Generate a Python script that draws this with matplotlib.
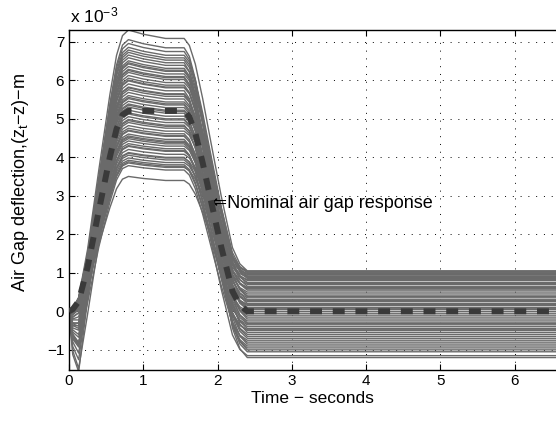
import numpy as np
import matplotlib
matplotlib.use("Agg")
import matplotlib.pyplot as plt

plt.rcParams["font.family"] = ["Liberation Sans", "DejaVu Sans"]
plt.rcParams["mathtext.default"] = "regular"

# shape knots of the response (seconds)
rise_t = [0.0, 0.05, 0.13, 0.25, 0.40, 0.55, 0.64, 0.72, 0.80]
rise_frac = [0.0, 0.01, 0.05, 0.22, 0.50, 0.77, 0.91, 0.98, 1.0]
dip_t = [0.0, 0.06, 0.13, 0.22, 0.35, 0.50, 0.70]
dip_frac = [0.0, 0.75, 1.0, 0.70, 0.30, 0.10, 0.0]
hold_t = [1.0, 1.3, 1.55]
hold_frac = [0.985, 0.97, 0.97]
fall_t = [1.62, 1.70, 1.80, 1.90, 2.05, 2.20, 2.30, 2.40, 2.60, 6.6]
fall_frac = [0.03, 0.11, 0.26, 0.43, 0.68, 0.90, 0.97, 1.0, 1.0, 1.0]

# per-run plateau heights, final offsets and initial dips (x 1e-3 m)
peaks = [7.30, 7.05, 6.85, 6.72, 6.65, 6.58, 6.50, 6.42, 6.35, 6.28,
         6.20, 6.12, 6.05, 5.98, 5.90, 5.82, 5.75, 5.68, 5.60, 5.52,
         5.45, 5.38, 5.30, 5.22, 5.12, 5.05, 4.98, 4.90, 4.82, 4.75,
         4.68, 4.60, 4.55, 4.48, 4.42, 4.35, 4.28, 4.20, 4.12, 4.05,
         3.98, 3.92, 3.85, 3.78, 3.50, 6.95, 6.78, 6.45, 6.25, 6.00,
         5.80, 5.55, 5.35, 5.15, 4.95, 4.70, 4.52, 4.30, 4.10, 3.88]
finals = [1.05, -0.55, 0.85, 0.20, -1.20, 0.65, -0.30, 1.00, 0.40, -0.85,
          0.10, 0.95, -0.45, 0.55, -1.05, 0.30, 0.75, -0.15, 0.90, -0.70,
          0.05, 0.60, -0.95, 0.45, -0.25, 0.80, -0.60, 0.15, 1.02, -0.40,
          0.35, -0.80, 0.70, -0.10, 0.50, -1.15, 0.25, 0.88, -0.50, 0.00,
          0.62, -0.35, 0.98, -0.75, 0.18, -0.20, 0.72, -1.00, 0.38, 0.92,
          -0.65, 0.08, 0.58, -0.32, 1.04, -0.90, 0.28, -0.05, 0.82, -0.48]
dips = [0.0, -0.72, 0.0, -0.1, -1.9, 0.0, -0.36, 0.0, 0.0, -1.2,
        -0.1, 0.0, -0.6, 0.0, -1.55, 0.0, 0.0, -0.24, 0.0, -0.95,
        -0.05, 0.0, -1.35, 0.0, -0.3, 0.0, -0.85, -0.1, 0.0, -0.55,
        0.0, -1.05, 0.0, -0.18, 0.0, -1.7, 0.0, 0.0, -0.65, -0.05,
        0.0, -0.42, 0.0, -1.0, -0.1, -0.24, 0.0, -1.25, 0.0, 0.0,
        -0.78, -0.05, 0.0, -0.4, 0.0, -1.1, 0.0, -0.12, 0.0, -0.58]

nominal_peak = 5.2
nominal_final = 0.0

x_ticks = [0, 1, 2, 3, 4, 5, 6]
y_ticks = [-1, 0, 1, 2, 3, 4, 5, 6, 7]


def response(peak, final, dip, sag=True):
    rise = [peak * r + dip * np.interp(t, dip_t, dip_frac) for t, r in zip(rise_t, rise_frac)]
    hold = [peak * (h if sag else 1.0) for h in hold_frac]
    end = hold[-1]
    fall = [end * (1.0 - f) + final * f for f in fall_frac]
    return rise_t + hold_t + fall_t, rise + hold + fall


fig = plt.figure(figsize=(5.56, 4.23), dpi=100)
ax = fig.add_axes([69 / 556, 53.5 / 423, 487 / 556, 339.5 / 423])

for p, f, d in zip(peaks, finals, dips):
    t, y = response(p, f, d)
    ax.plot(t, y, color="#6a6a6a", lw=1.0)

t, y = response(nominal_peak, nominal_final, 0.0, sag=False)
ax.plot(t, y, color="#3a3a3a", lw=4.3, dashes=(2.0, 1.8), dash_capstyle="butt", zorder=5)

ax.text(1.92, 2.81, "\u21d0Nominal air gap response", fontsize=13, va="center", ha="left")

ax.set_xlim(0, 6.555)
ax.set_ylim(-1.51, 7.30)
ax.set_xticks(x_ticks)
ax.set_yticks(y_ticks)
ax.tick_params(direction="in", length=4, top=True, right=False, labelsize=11, width=0.8)
ax.grid(True, color="black", linestyle=(0, (1, 7)), lw=0.7)
ax.spines["right"].set_visible(False)
for s in ("left", "top", "bottom"):
    ax.spines[s].set_linewidth(1.0)

ax.set_xlabel("Time \u2212 seconds", fontsize=12.5, labelpad=2)
ax.set_ylabel("Air Gap deflection,(z$_t$\u2212z)\u2212m", fontsize=13)
ax.yaxis.set_label_coords(-0.078, 0.55)
fig.text(70 / 556, 1 - 22 / 423, "x 10$^{-3}$", fontsize=12.5, ha="left", va="baseline")

fig.savefig("out.png", dpi=100)
